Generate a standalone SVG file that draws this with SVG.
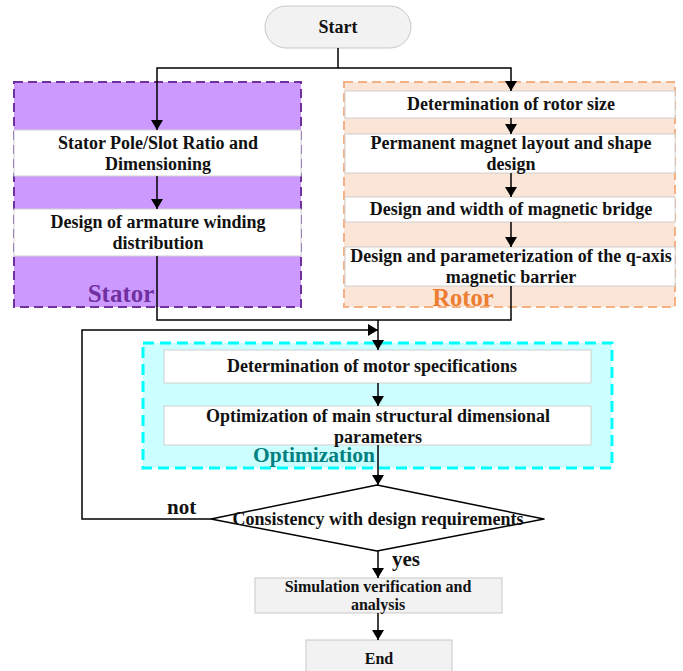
<svg xmlns="http://www.w3.org/2000/svg" width="683" height="671" viewBox="0 0 683 671">
<defs>
<marker id="ah" viewBox="0 0 10 12" refX="10" refY="6" markerWidth="10" markerHeight="12" markerUnits="userSpaceOnUse" orient="auto">
<path d="M0,0 L10,6 L0,12 Z" fill="#000"/>
</marker>
<style>
text{font-family:"Liberation Serif","Times New Roman",serif;font-weight:bold;fill:#111;}
.t{font-size:18px;text-anchor:middle;}
.s{font-size:16px;text-anchor:middle;}
.node{fill:#fff;stroke:#d0d0d0;stroke-width:1;}
.gnode{fill:#f2f2f2;stroke:#c8c8c8;stroke-width:1;}
.conn{fill:none;stroke:#000;stroke-width:1.5;}
.lbl{font-size:21px;}
</style>
</defs>
<rect width="683" height="671" fill="#fff"/>

<g id="stator-group">
<rect x="14" y="82" width="287" height="225" fill="#cc99ff" stroke="#7030a0" stroke-width="2" stroke-dasharray="9,5"/>
<text x="121" y="302" style="font-size:25px;fill:#7030a0;text-anchor:middle;">Stator</text>
</g>
<g id="rotor-group">
<rect x="344" y="82" width="331" height="225" fill="#fbe5d6" stroke="#f4b183" stroke-width="2" stroke-dasharray="9,5"/>
<text x="463" y="306" style="font-size:24.5px;fill:#ed7d31;text-anchor:middle;">Rotor</text>
</g>
<g id="optimization-group">
<rect x="143" y="343" width="469" height="125" fill="#ccffff" stroke="#00ffff" stroke-width="3" stroke-dasharray="11,6"/>
<text x="314" y="462" style="font-size:21.5px;fill:#008080;text-anchor:middle;">Optimization</text>
</g>

<g id="start">
<rect x="265" y="6" width="146" height="42" rx="21" ry="21" class="gnode"/>
<text x="338" y="33" class="t">Start</text>
</g>

<g id="stator-ratio">
<rect x="14" y="130" width="287" height="46" class="node"/>
<text x="158" y="149" class="t">Stator Pole/Slot Ratio and</text>
<text x="158" y="170" class="t">Dimensioning</text>
</g>
<g id="armature-winding">
<rect x="14" y="209" width="287" height="47" class="node"/>
<text x="158" y="228" class="t">Design of armature winding</text>
<text x="158" y="249" class="t">distribution</text>
</g>

<g id="rotor-size">
<rect x="345" y="91" width="330" height="27" class="node"/>
<text x="511" y="110" class="t">Determination of rotor size</text>
</g>
<g id="magnet-layout">
<rect x="345" y="134" width="330" height="39" class="node"/>
<text x="511" y="149" class="t">Permanent magnet layout and shape</text>
<text x="511" y="170" class="t">design</text>
</g>
<g id="magnetic-bridge">
<rect x="345" y="197" width="330" height="25" class="node"/>
<text x="511" y="215" class="t">Design and width of magnetic bridge</text>
</g>
<g id="q-axis-barrier">
<rect x="345" y="247" width="330" height="39" class="node"/>
<text x="511" y="262" class="t">Design and parameterization of the q-axis</text>
<text x="511" y="283" class="t">magnetic barrier</text>
</g>

<g id="motor-specs">
<rect x="164" y="350" width="427" height="33" class="node"/>
<text x="372" y="372" class="t">Determination of motor specifications</text>
</g>
<g id="structural-optimization">
<rect x="164" y="406" width="427" height="39" class="node"/>
<text x="378" y="422" class="t">Optimization of main structural dimensional</text>
<text x="378" y="443" class="t">parameters</text>
</g>

<g id="consistency">
<path d="M377,485 L544,519 L377,551 L211,519 Z" fill="#fff" stroke="#000" stroke-width="1.5" stroke-linejoin="round"/>
<text x="378" y="525" class="t">Consistency with design requirements</text>
</g>

<g id="simulation">
<rect x="255" y="578" width="247" height="35" class="gnode"/>
<text x="378" y="592" class="s">Simulation verification and</text>
<text x="378" y="610" class="s">analysis</text>
</g>
<g id="end">
<rect x="306" y="640" width="146" height="40" class="gnode"/>
<text x="379" y="664" class="s">End</text>
</g>

<g id="connectors">
<path class="conn" d="M338,48 V68 H157 V130" marker-end="url(#ah)"/>
<path class="conn" d="M338,68 H511 V91" marker-end="url(#ah)"/>
<path class="conn" d="M157,176 V209" marker-end="url(#ah)"/>
<path class="conn" d="M511,118 V134" marker-end="url(#ah)"/>
<path class="conn" d="M511,173 V197" marker-end="url(#ah)"/>
<path class="conn" d="M511,222 V247" marker-end="url(#ah)"/>
<path class="conn" d="M157,256 V320 H378"/>
<path class="conn" d="M511,286 V320 H378"/>
<path class="conn" d="M378,320 V350" marker-end="url(#ah)"/>
<path class="conn" d="M378,383 V406" marker-end="url(#ah)"/>
<path class="conn" d="M378,445 V485" marker-end="url(#ah)"/>
<path class="conn" d="M211,519 H82 V330 H378" marker-end="url(#ah)"/>
<path class="conn" d="M378,551 V578" marker-end="url(#ah)"/>
<path class="conn" d="M378,613 V640" marker-end="url(#ah)"/>
<text x="167" y="514" class="lbl">not</text>
<text x="392" y="566" class="lbl">yes</text>
</g>
</svg>
